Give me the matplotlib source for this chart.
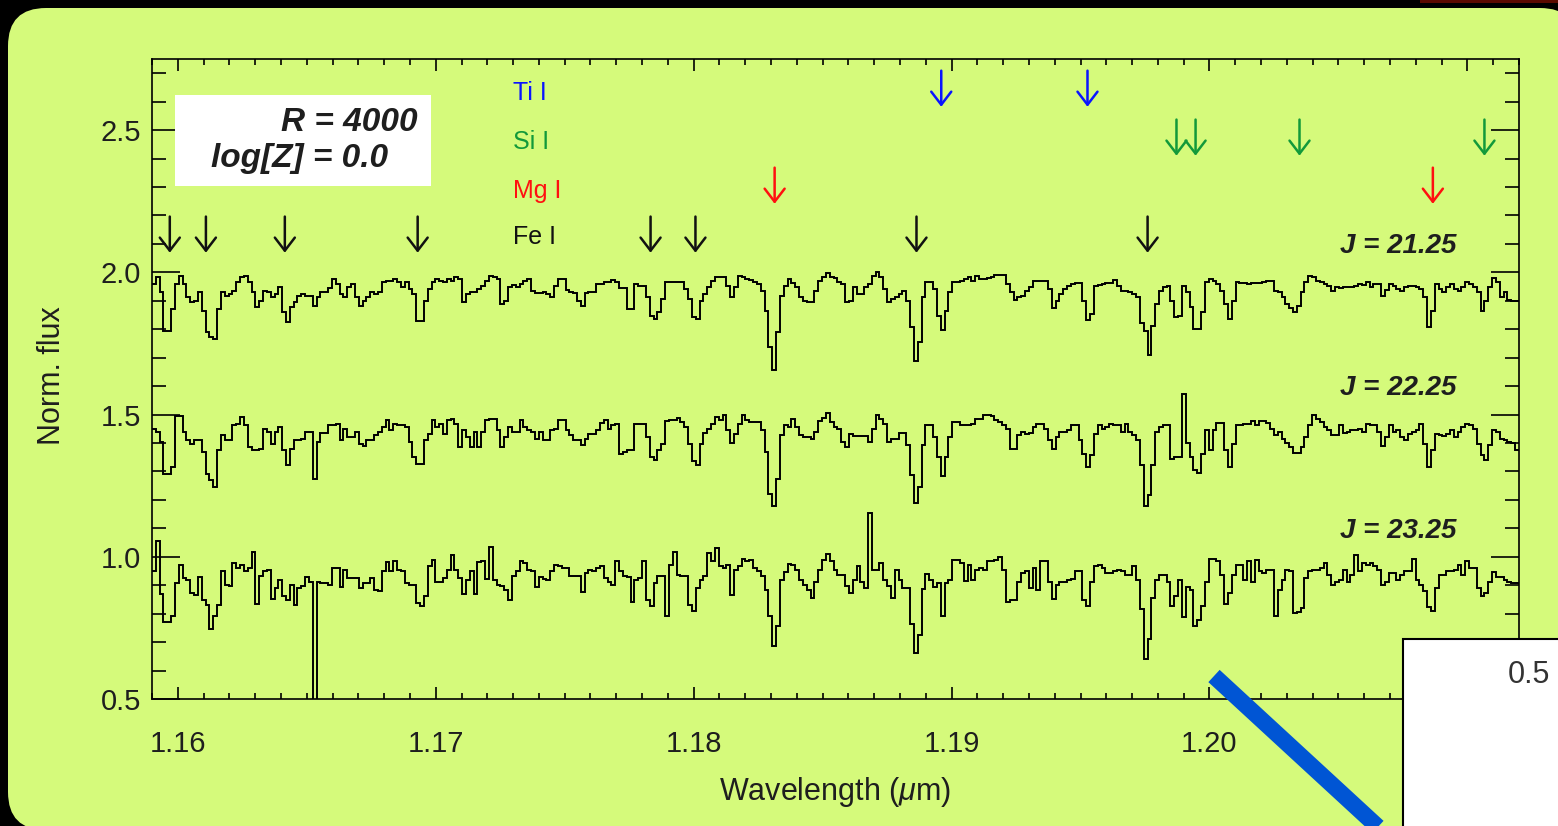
import numpy as np
import matplotlib
matplotlib.use("Agg")
import matplotlib.pyplot as plt
from matplotlib.patches import FancyBboxPatch, Rectangle
from matplotlib.lines import Line2D
from matplotlib.transforms import IdentityTransform
from matplotlib.ticker import MultipleLocator, FormatStrFormatter

plt.rcParams["font.family"] = ["Liberation Sans", "DejaVu Sans"]
plt.rcParams["mathtext.fontset"] = "custom"
plt.rcParams["mathtext.rm"] = "Liberation Sans"
plt.rcParams["mathtext.it"] = "Liberation Sans:italic"

# Simulated spectra, normalised flux per pixel (R = 4000, log[Z] = 0.0)
WAVE_START = 1.159      # micron, left edge of first pixel
WAVE_STEP = 0.00014845  # micron per pixel

flux_j2125 = [
    0.959, 0.982, 0.93, 0.795, 0.795, 0.87, 0.959, 0.988, 0.959, 0.912,
    0.895, 0.90, 0.93, 0.865, 0.789, 0.772, 0.766, 0.871, 0.93, 0.918,
    0.924, 0.936, 0.965, 0.982, 0.988, 0.965, 0.93, 0.877, 0.90, 0.936,
    0.93, 0.912, 0.924, 0.947, 0.86, 0.825, 0.877, 0.895, 0.918, 0.924,
    0.918, 0.918, 0.883, 0.912, 0.93, 0.93, 0.945, 0.977, 0.959, 0.924,
    0.912, 0.947, 0.959, 0.912, 0.883, 0.90, 0.912, 0.93, 0.924, 0.93,
    0.965, 0.971, 0.971, 0.977, 0.965, 0.947, 0.965, 0.942, 0.924, 0.83,
    0.83, 0.90, 0.942, 0.965, 0.977, 0.971, 0.965, 0.977, 0.971, 0.982,
    0.977, 0.895, 0.924, 0.93, 0.93, 0.942, 0.953, 0.971, 0.988, 0.982,
    0.977,
    0.889, 0.90, 0.947, 0.956, 0.95, 0.959, 0.968, 0.977, 0.936, 0.926,
    0.927, 0.93, 0.924, 0.912, 0.953, 0.977, 0.977, 0.938, 0.93, 0.926,
    0.90, 0.883, 0.926, 0.93, 0.93, 0.959, 0.959, 0.965, 0.965, 0.974,
    0.965, 0.944, 0.944, 0.871, 0.871, 0.959, 0.953, 0.953, 0.912, 0.848,
    0.836, 0.86, 0.906, 0.967, 0.967, 0.967, 0.967, 0.967, 0.942, 0.906,
    0.842, 0.836, 0.90, 0.924, 0.95, 0.971, 0.982, 0.982, 0.982, 0.953,
    0.912, 0.947, 0.988, 0.982, 0.977, 0.973, 0.965, 0.959, 0.936, 0.865,
    0.737, 0.657, 0.789, 0.918, 0.953, 0.977, 0.963, 0.947, 0.912, 0.90,
    0.895, 0.895, 0.936, 0.971, 0.985, 0.996, 0.985, 0.98, 0.965, 0.959,
    0.895, 0.90, 0.947, 0.924, 0.924, 0.947, 0.959, 0.988, 1.002, 0.985,
    0.942, 0.895, 0.906, 0.912, 0.924, 0.936, 0.90, 0.809, 0.687, 0.754,
    0.912, 0.965, 0.965, 0.942, 0.848, 0.798, 0.865, 0.93, 0.965, 0.965,
    0.968, 0.977, 0.985, 0.968, 0.988, 0.977, 0.977, 0.98, 0.982, 0.992,
    0.992, 0.992, 0.959, 0.93,
    0.903, 0.915, 0.918, 0.936, 0.947, 0.968, 0.971, 0.971, 0.971, 0.942,
    0.875, 0.90, 0.924, 0.942, 0.953, 0.959, 0.961, 0.961, 0.90, 0.833,
    0.854, 0.953, 0.957, 0.959, 0.963, 0.963, 0.973, 0.953, 0.936, 0.933,
    0.93, 0.924, 0.912, 0.821, 0.795, 0.711, 0.813, 0.889, 0.936, 0.947,
    0.953, 0.90, 0.842, 0.848, 0.953, 0.93, 0.877, 0.801, 0.801, 0.86,
    0.965, 0.977, 0.971, 0.959, 0.936, 0.889, 0.836, 0.90, 0.965, 0.961,
    0.961, 0.959, 0.961, 0.961, 0.963, 0.965, 0.968, 0.971, 0.936, 0.93,
    0.912, 0.889, 0.875, 0.86, 0.883, 0.93, 0.965, 0.988, 0.982, 0.971,
    0.965, 0.959, 0.953, 0.936, 0.947, 0.945, 0.947, 0.947, 0.95, 0.953,
    0.959, 0.957, 0.965, 0.95, 0.959, 0.959, 0.918, 0.938, 0.959, 0.953,
    0.942, 0.936, 0.947, 0.953, 0.953, 0.95, 0.942, 0.912, 0.807, 0.865,
    0.959, 0.942, 0.93, 0.947, 0.959, 0.942, 0.936, 0.947, 0.965, 0.959,
    0.947, 0.93, 0.865, 0.90, 0.947, 0.98, 0.965, 0.912, 0.93, 0.903,
    0.90, 0.90,
]

flux_j2225 = [
    0.95, 0.939, 0.904, 0.792, 0.792, 0.816, 0.995, 0.995, 0.939, 0.909,
    0.898, 0.909, 0.909, 0.868, 0.792, 0.769, 0.746, 0.874, 0.927, 0.909,
    0.909, 0.962, 0.968, 0.991, 0.962, 0.886, 0.877, 0.877, 0.88, 0.95,
    0.939, 0.898, 0.939, 0.956, 0.874, 0.822, 0.88, 0.909, 0.909, 0.915,
    0.939, 0.939, 0.775, 0.904, 0.935, 0.935, 0.962, 0.962, 0.968, 0.909,
    0.95, 0.921, 0.921, 0.939, 0.898, 0.888, 0.909, 0.909, 0.927, 0.939,
    0.956, 0.982, 0.944, 0.968, 0.962, 0.962, 0.956, 0.904, 0.851, 0.827,
    0.827, 0.909, 0.933, 0.98, 0.956, 0.968, 0.933, 0.98, 0.985, 0.968,
    0.886, 0.944, 0.92, 0.886, 0.939, 0.886, 0.939, 0.98, 0.985, 0.985,
    0.944,
    0.886, 0.921, 0.956, 0.939, 0.939, 0.98, 0.956, 0.944, 0.939, 0.915,
    0.939, 0.909, 0.909, 0.944, 0.95, 0.982, 0.982, 0.944, 0.927, 0.909,
    0.909, 0.892, 0.915, 0.933, 0.933, 0.944, 0.97, 0.98, 0.95, 0.962,
    0.968, 0.863, 0.868, 0.877, 0.877, 0.968, 0.968, 0.968, 0.921, 0.851,
    0.839, 0.874, 0.898, 0.977, 0.98, 0.98, 0.989, 0.974, 0.956, 0.898,
    0.837, 0.822, 0.898, 0.935, 0.95, 0.968, 0.991, 0.98, 0.997, 0.944,
    0.90, 0.933, 0.968, 0.997, 0.98, 0.974, 0.974, 0.974, 0.944, 0.868,
    0.722, 0.678, 0.775, 0.927, 0.962, 0.956, 0.985, 0.956, 0.927, 0.921,
    0.921, 0.915, 0.939, 0.977, 0.988, 1.006, 0.974, 0.958, 0.95, 0.904,
    0.886, 0.933, 0.924, 0.924, 0.924, 0.924, 0.904, 0.95, 0.997, 0.985,
    0.968, 0.904, 0.915, 0.915, 0.934, 0.934, 0.892, 0.787, 0.69, 0.746,
    0.892, 0.962, 0.962, 0.921, 0.851, 0.783, 0.851, 0.921, 0.974, 0.974,
    0.962, 0.962, 0.962, 0.968, 0.984, 0.984, 1.0, 1.0, 0.994, 0.98,
    0.974, 0.962, 0.95, 0.88,
    0.88, 0.927, 0.939, 0.933, 0.935, 0.956, 0.968, 0.968, 0.95, 0.909,
    0.88, 0.921, 0.939, 0.939, 0.944, 0.962, 0.962, 0.909, 0.863, 0.816,
    0.857, 0.933, 0.962, 0.95, 0.956, 0.968, 0.962, 0.962, 0.939, 0.968,
    0.939, 0.927, 0.909, 0.822, 0.679, 0.716, 0.822, 0.939, 0.956, 0.962,
    0.962, 0.845, 0.851, 0.851, 1.073, 0.90, 0.851, 0.804, 0.795, 0.863,
    0.944, 0.874, 0.944, 0.97, 0.97, 0.874, 0.816, 0.898, 0.962, 0.962,
    0.968, 0.968, 0.977, 0.962, 0.977, 0.977, 0.97, 0.95, 0.927, 0.939,
    0.915, 0.90, 0.886, 0.865, 0.865, 0.886, 0.921, 0.962, 1.0, 0.985,
    0.974, 0.956, 0.944, 0.927, 0.927, 0.962, 0.935, 0.939, 0.944, 0.944,
    0.95, 0.939, 0.968, 0.965, 0.962, 0.939, 0.888, 0.921, 0.962, 0.939,
    0.944, 0.921, 0.912, 0.933, 0.939, 0.944, 0.968, 0.898, 0.816, 0.874,
    0.933, 0.927, 0.924, 0.933, 0.944, 0.921, 0.939, 0.956, 0.968, 0.962,
    0.95, 0.898, 0.857, 0.839, 0.892, 0.944, 0.939, 0.915, 0.909, 0.904,
    0.90, 0.874,
]

flux_j2325 = [
    0.95, 1.054, 0.87, 0.77, 0.77, 0.793, 0.908, 0.972, 0.925, 0.919,
    0.873, 0.867, 0.929, 0.849, 0.832, 0.746, 0.791, 0.832, 0.949, 0.902,
    0.898, 0.978, 0.96, 0.972, 0.949, 0.96, 1.016, 0.835, 0.933, 0.949,
    0.952, 0.851, 0.89, 0.919, 0.861, 0.849, 0.902, 0.832, 0.89, 0.896,
    0.929, 0.913, 0.2, 0.913, 0.908, 0.908, 0.902, 0.96, 0.96, 0.894,
    0.952, 0.925, 0.925, 0.925, 0.89, 0.908, 0.908, 0.925, 0.884, 0.878,
    0.949, 0.981, 0.949, 0.984, 0.954, 0.949, 0.908, 0.902, 0.902, 0.838,
    0.826, 0.861, 0.968, 0.989, 0.913, 0.913, 0.925, 0.954, 1.007, 0.954,
    0.925, 0.87, 0.919, 0.949, 0.87, 0.98, 0.984, 0.922, 1.033, 0.919,
    0.902,
    0.896, 0.882, 0.849, 0.931, 0.949, 0.984, 0.978, 0.954, 0.949, 0.894,
    0.929, 0.922, 0.919, 0.949, 0.972, 0.966, 0.96, 0.96, 0.931, 0.931,
    0.931, 0.875, 0.943, 0.954, 0.949, 0.96, 0.966, 0.925, 0.913, 0.902,
    0.984, 0.949, 0.931, 0.929, 0.84, 0.919, 0.925, 0.984, 0.849, 0.828,
    0.908, 0.931, 0.933, 0.791, 0.972, 1.016, 0.937, 0.933, 0.931, 0.832,
    0.811, 0.89, 0.919, 0.931, 1.013, 0.984, 1.03, 0.966, 0.96, 0.972,
    0.867, 0.954, 0.966, 0.992, 0.986, 0.987, 0.96, 0.949, 0.931, 0.884,
    0.791, 0.688, 0.758, 0.919, 0.945, 0.975, 0.972, 0.954, 0.919, 0.902,
    0.884, 0.855, 0.913, 0.954, 0.989, 1.011, 0.984, 0.954, 0.937, 0.937,
    0.896, 0.873, 0.919, 0.966, 0.913, 0.89, 1.153, 0.954, 0.954, 0.978,
    0.919, 0.896, 0.855, 0.954, 0.919, 0.89, 0.89, 0.765, 0.662, 0.724,
    0.887, 0.94, 0.919, 0.894, 0.908, 0.793, 0.908, 0.919, 0.987, 0.987,
    0.978, 0.916, 0.972, 0.919, 0.954, 0.96, 0.954, 0.984, 0.984, 0.989,
    0.998, 0.954, 0.841, 0.849,
    0.849, 0.913, 0.943, 0.949, 0.89, 0.96, 0.884, 0.984, 0.984, 0.913,
    0.851, 0.902, 0.913, 0.913, 0.919, 0.922, 0.949, 0.949, 0.849, 0.826,
    0.913, 0.966, 0.972, 0.96, 0.943, 0.943, 0.949, 0.954, 0.949, 0.937,
    0.937, 0.966, 0.919, 0.816, 0.639, 0.711, 0.855, 0.919, 0.937, 0.937,
    0.91, 0.828, 0.861, 0.919, 0.788, 0.894, 0.882, 0.758, 0.779, 0.828,
    0.913, 0.992, 0.992, 0.984, 0.937, 0.835, 0.873, 0.937, 0.972, 0.972,
    0.919, 0.984, 0.913, 0.989, 0.949, 0.943, 0.954, 0.954, 0.791, 0.884,
    0.919, 0.954, 0.949, 0.802, 0.805, 0.82, 0.925, 0.949, 0.954, 0.954,
    0.96, 0.978, 0.937, 0.902, 0.91, 0.919, 0.954, 0.913, 0.937, 1.007,
    0.949, 0.978, 0.972, 0.978, 0.968, 0.954, 0.902, 0.913, 0.943, 0.943,
    0.919, 0.937, 0.949, 0.949, 0.992, 0.919, 0.902, 0.878, 0.823, 0.808,
    0.89, 0.937, 0.937, 0.949, 0.949, 0.954, 0.972, 0.937, 0.984, 0.96,
    0.96, 0.89, 0.861, 0.873, 0.913, 0.945, 0.929, 0.929, 0.919, 0.913,
    0.908, 0.908,
]

spectra = [flux_j2125, flux_j2225, flux_j2325]
offsets = [1.0, 0.5, 0.0]
mag_labels = ["J = 21.25", "J = 22.25", "J = 23.25"]

# Line identifications (micron)
line_species = ["Ti I", "Si I", "Mg I", "Fe I"]
line_colors = ["#0a14ff", "#12993a", "#ff1010", "#111111"]
line_waves = [
    [1.18960, 1.19527],
    [1.19872, 1.19946, 1.20349, 1.21066],
    [1.18314, 1.20866],
    [1.15969, 1.16109, 1.16415, 1.16930, 1.17833, 1.18007, 1.18864, 1.19760],
]

GREEN = "#d5fa7b"
INK = "#1e1e1e"

fig = plt.figure(figsize=(15.58, 8.26), dpi=100, facecolor="black")
px = IdentityTransform()

# slide panel behind the plot
fig.add_artist(FancyBboxPatch((8, -4), 1570, 822,
                              boxstyle="round,pad=0,rounding_size=38",
                              facecolor=GREEN, edgecolor="none",
                              transform=px, zorder=-2))
fig.add_artist(Rectangle((1420, 823), 140, 4, facecolor="#5a0a00",
                         edgecolor="none", transform=px, zorder=-1))

ax = fig.add_axes([0.09756, 0.15375, 0.87741, 0.77482])
ax.set_facecolor("none")

for flux, off in zip(spectra, offsets):
    edges = WAVE_START + WAVE_STEP * np.arange(len(flux) + 1)
    ax.stairs(np.asarray(flux) + off, edges, baseline=None,
              color="black", linewidth=1.4)

ax.set_xlim(1.159, 1.212)
ax.set_ylim(0.5, 2.75)

ax.xaxis.set_major_locator(MultipleLocator(0.01))
ax.xaxis.set_minor_locator(MultipleLocator(0.001))
ax.xaxis.set_major_formatter(FormatStrFormatter("%.2f"))
ax.yaxis.set_major_locator(MultipleLocator(0.5))
ax.yaxis.set_minor_locator(MultipleLocator(0.1))
ax.yaxis.set_major_formatter(FormatStrFormatter("%.1f"))

ax.tick_params(axis="both", which="both", direction="in", width=1.2,
               colors="black", labelcolor=INK, labelsize=21)
ax.tick_params(axis="x", which="major", length=8.6, top=True, pad=22)
ax.tick_params(axis="x", which="minor", length=4.3, top=True)
ax.tick_params(axis="y", which="major", length=20, right=True, pad=8)
ax.tick_params(axis="y", which="minor", length=10, right=True)
for sp in ax.spines.values():
    sp.set_linewidth(1.2)

ax.set_xlabel(r"Wavelength ($\mu$m)", fontsize=22, color=INK, va="center")
ax.xaxis.set_label_coords(0.4996, -0.1455)
ax.set_ylabel("Norm. flux", fontsize=22, color=INK, va="center", ha="center")
ax.yaxis.set_label_coords(-0.0732, 0.505)

# line markers: one row of arrows per species
arrow_tops = [2.709, 2.537, 2.368, 2.196]
label_base = [2.607, 2.435, 2.263, 2.098]
for name, col, waves, top, yb in zip(line_species, line_colors, line_waves,
                                     arrow_tops, label_base):
    ax.text(1.17298, yb, name, color=col, fontsize=18, ha="left",
            va="baseline")
    for w in waves:
        ax.annotate("", xy=(w, top - 0.127), xytext=(w, top),
                    arrowprops=dict(arrowstyle="->,head_length=0.47,head_width=0.36",
                                    color=col, lw=1.8, shrinkA=0, shrinkB=0,
                                    mutation_scale=20))

for lab, off in zip(mag_labels, offsets):
    ax.text(1.20957, 1.067 + off, lab, fontsize=20, fontweight="bold",
            fontstyle="italic", color=INK, ha="right", va="baseline")

# parameter box
ax.add_patch(Rectangle((0.0168, 0.8016), 0.1873, 0.1424, transform=ax.transAxes,
                       facecolor="white", edgecolor="none", zorder=3))
ax.text(0.1946, 0.8875, "R = 4000", transform=ax.transAxes, fontsize=24,
        fontweight="bold", fontstyle="italic", color=INK, ha="right",
        va="baseline", zorder=4)
ax.text(0.1726, 0.831, "log[Z] = 0.0", transform=ax.transAxes, fontsize=24,
        fontweight="bold", fontstyle="italic", color=INK, ha="right",
        va="baseline", zorder=4)

# overlapping slide elements at lower right
fig.add_artist(Line2D([1214, 1430], [826 - 676, 826 - 875], color="#0055d4",
                      linewidth=12, solid_capstyle="butt", transform=px,
                      zorder=4))
fig.add_artist(Rectangle((1403, -10), 200, 826 - 639 + 10, facecolor="white",
                         edgecolor="black", linewidth=1.5, transform=px,
                         zorder=5))
fig.text(1508 / 1558, 1 - 675 / 826, "0.5", fontsize=22, color="#333333",
         ha="left", va="center", zorder=6)

fig.savefig("out.png", dpi=100, facecolor=fig.get_facecolor())
